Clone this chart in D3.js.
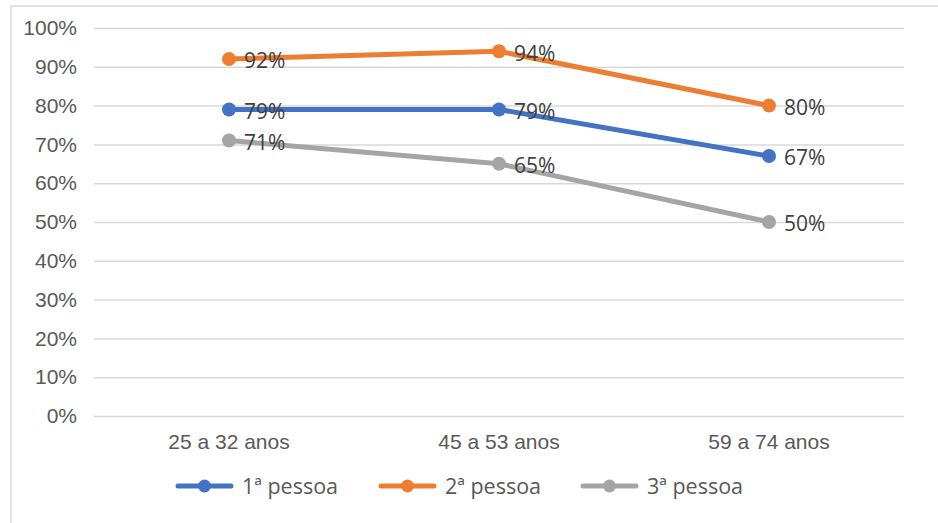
<!DOCTYPE html>
<html>
<head>
<meta charset="utf-8">
<script src="https://cdn.jsdelivr.net/npm/d3@7"></script>
<style>
  body { margin: 0; background: #fff; }
  svg { font-family: "Open Sans", "Noto Sans", sans-serif; }
</style>
</head>
<body>
<div id="chart"></div>
<script>
const FRAME_WIDTH = 938;
const FRAME_HEIGHT = 523;
const MARGINS = {left: 94, right: 34, top: 28, bottom: 107};
const VIS_WIDTH = FRAME_WIDTH - MARGINS.left - MARGINS.right;
const VIS_HEIGHT = FRAME_HEIGHT - MARGINS.top - MARGINS.bottom;

// data
const CATEGORIES = ["25 a 32 anos", "45 a 53 anos", "59 a 74 anos"];
const SERIES_NAMES = ["1ª pessoa", "2ª pessoa", "3ª pessoa"];
const PESSOA_1 = [79, 79, 67];
const PESSOA_2 = [92, 94, 80];
const PESSOA_3 = [71, 65, 50];
const Y_TICKS = [0, 10, 20, 30, 40, 50, 60, 70, 80, 90, 100];
const COLORS = ["#4472C4", "#ED7D31", "#A5A5A5"];

const SERIES = [PESSOA_1, PESSOA_2, PESSOA_3].map((vals, i) => ({
  name: SERIES_NAMES[i],
  color: COLORS[i],
  values: vals.map((v, j) => ({cat: CATEGORIES[j], value: v}))
}));

const FRAME = d3.select("#chart")
  .append("svg")
    .attr("width", FRAME_WIDTH)
    .attr("height", FRAME_HEIGHT);

// chart border (only top and left edges are inside the picture)
FRAME.append("rect")
  .attr("x", 11).attr("y", 6)
  .attr("width", FRAME_WIDTH + 20).attr("height", FRAME_HEIGHT + 20)
  .attr("fill", "none")
  .attr("stroke", "#d9d9d9")
  .attr("stroke-width", 1.5);

const X_SCALE = d3.scaleBand()
  .domain(CATEGORIES)
  .range([0, VIS_WIDTH]);

const Y_SCALE = d3.scaleLinear()
  .domain([0, 100])
  .range([VIS_HEIGHT, 0]);

const G = FRAME.append("g")
  .attr("transform", "translate(" + MARGINS.left + "," + MARGINS.top + ")");

// gridlines + y labels
const yAxis = G.append("g")
  .call(d3.axisLeft(Y_SCALE).tickValues(Y_TICKS)
    .tickSize(-VIS_WIDTH).tickPadding(17)
    .tickFormat(d => d + "%"));
yAxis.select(".domain").remove();
yAxis.selectAll(".tick line").attr("stroke", "#d9d9d9").attr("stroke-width", 1.5);
yAxis.selectAll(".tick text").attr("fill", "#595959").attr("font-size", "21px");

// x labels
const xAxis = G.append("g")
  .attr("transform", "translate(0," + VIS_HEIGHT + ")")
  .call(d3.axisBottom(X_SCALE).tickSize(0).tickPadding(18));
xAxis.select(".domain").remove();
xAxis.selectAll(".tick text").attr("fill", "#595959").attr("font-size", "21px");

const xPos = d => X_SCALE(d.cat) + X_SCALE.bandwidth() / 2;

const line = d3.line()
  .x(xPos)
  .y(d => Y_SCALE(d.value));

SERIES.forEach(s => {
  G.append("path")
    .datum(s.values)
    .attr("fill", "none")
    .attr("stroke", s.color)
    .attr("stroke-width", 5)
    .attr("stroke-linejoin", "round")
    .attr("d", line);

  G.selectAll(null)
    .data(s.values)
    .enter()
    .append("circle")
      .attr("cx", xPos)
      .attr("cy", d => Y_SCALE(d.value))
      .attr("r", 7)
      .attr("fill", s.color);
});

// data labels on top
SERIES.forEach(s => {
  G.selectAll(null)
    .data(s.values)
    .enter()
    .append("text")
      .attr("x", d => xPos(d) + 15)
      .attr("y", d => Y_SCALE(d.value) + 2)
      .attr("dy", "0.35em")
      .attr("fill", "#404040")
      .attr("font-size", "21px")
      .text(d => d.value + "%");
});

// legend
const LEGEND_X = [178, 381, 583];
const legend = FRAME.append("g")
  .attr("transform", "translate(0,486)");
SERIES.forEach((s, i) => {
  const item = legend.append("g").attr("transform", "translate(" + LEGEND_X[i] + ",0)");
  item.append("line")
    .attr("x1", 0).attr("x2", 53)
    .attr("stroke", s.color).attr("stroke-width", 5)
    .attr("stroke-linecap", "round");
  item.append("circle").attr("cx", 26.5).attr("r", 6.5).attr("fill", s.color);
  item.append("text")
    .attr("x", 64).attr("dy", "0.35em")
    .attr("fill", "#595959").attr("font-size", "21.5px")
    .text(s.name);
});
</script>
</body>
</html>
